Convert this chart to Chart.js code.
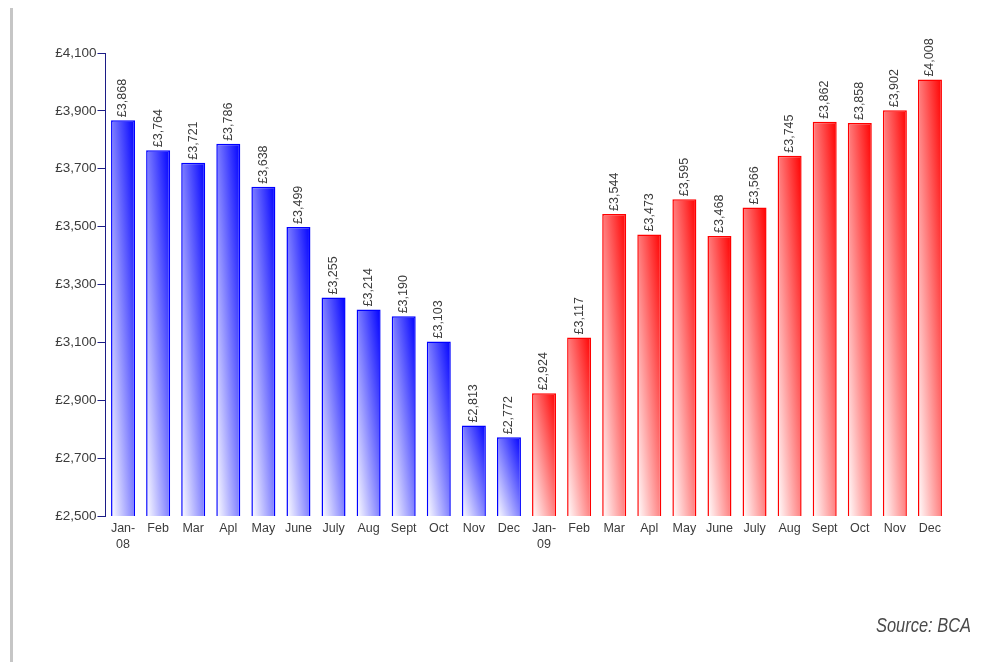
<!DOCTYPE html>
<html>
<head>
<meta charset="utf-8">
<script src="https://cdn.jsdelivr.net/npm/chart.js@4/dist/chart.umd.min.js"></script>
<style>
  html, body { margin: 0; padding: 0; background: #ffffff; }
  #wrap { position: relative; width: 983px; height: 662px; }
</style>
</head>
<body>
<div id="wrap"><canvas id="c" width="983" height="662"></canvas></div>
<script>
// Monthly average used-car price, 2008 and 2009
const monthLabels = [["Jan-", "08"], "Feb", "Mar", "Apl", "May", "June", "July", "Aug", "Sept", "Oct", "Nov", "Dec",
                     ["Jan-", "09"], "Feb", "Mar", "Apl", "May", "June", "July", "Aug", "Sept", "Oct", "Nov", "Dec"];
const prices2008 = [3868, 3764, 3721, 3786, 3638, 3499, 3255, 3214, 3190, 3103, 2813, 2772];
const prices2009 = [2924, 3117, 3544, 3473, 3595, 3468, 3566, 3745, 3862, 3858, 3902, 4008];
const yTicks = [2500, 2700, 2900, 3100, 3300, 3500, 3700, 3900, 4100];
const sourceNote = "Source: BCA";

const allPrices = prices2008.concat(prices2009);
const BAR_PCT = 0.684;
const FONT = '"Liberation Sans", Arial, Helvetica, sans-serif';

function money(v) {
  return "£" + String(v).replace(/\B(?=(\d{3})+(?!\d))/g, ",");
}

function baseColor(i) { return i < prices2008.length ? [0, 0, 255] : [255, 0, 0]; }
function rgb(c) { return 'rgb(' + c.join(',') + ')'; }

// Diagonal fill: white at the bottom-left corner, full colour at the top-right,
// with the colour bands running parallel to the bar's other diagonal.
function barFill(ctx) {
  const chart = ctx.chart;
  const i = ctx.dataIndex || 0;
  const solid = rgb(baseColor(i));
  if (ctx.type !== 'data' || !chart.scales || !chart.scales.x || !chart.scales.y) return solid;
  const xs = chart.scales.x, ys = chart.scales.y;
  const cat = xs.width / monthLabels.length;
  const w = cat * BAR_PCT;
  const cx = xs.getPixelForValue(i);
  const top = ys.getPixelForValue(allPrices[i]);
  const bottom = ys.getPixelForValue(yTicks[0]);
  const h = bottom - top;
  const vals = [w, cx, top, bottom, h];
  if (!vals.every(Number.isFinite) || w <= 0 || h <= 0) return solid;
  const x0 = cx - w / 2, y0 = bottom;
  const k = 2 * w * h / (h * h + w * w);
  const g = chart.ctx.createLinearGradient(x0, y0, x0 + h * k, y0 - w * k);
  g.addColorStop(0, 'rgb(255,255,255)');
  g.addColorStop(1, solid);
  return g;
}

const decorations = {
  id: 'decorations',
  beforeDraw(chart) {
    const c = chart.ctx;
    c.save();
    c.fillStyle = '#ffffff';
    c.fillRect(0, 0, chart.width, chart.height);
    c.fillStyle = '#c6c6c6';
    c.fillRect(10, 8, 3, chart.height - 8);
    c.restore();
  },
  afterDatasetsDraw(chart) {
    const c = chart.ctx;
    const meta = chart.getDatasetMeta(0);
    c.save();
    c.fillStyle = '#3c3c3c';
    c.font = '12.5px ' + FONT;
    c.textAlign = 'left';
    c.textBaseline = 'middle';
    meta.data.forEach((bar, i) => {
      c.save();
      c.translate(bar.x, bar.y - 3);
      c.rotate(-Math.PI / 2);
      c.fillText(money(allPrices[i]), 0, 0);
      c.restore();
    });
    c.fillStyle = '#4a4a4a';
    c.font = 'italic 20px ' + FONT;
    c.textAlign = 'right';
    c.textBaseline = 'alphabetic';
    c.fillText(sourceNote, 971, 632, 95);
    c.restore();
  }
};

const chart = new Chart(document.getElementById('c'), {
  type: 'bar',
  data: {
    labels: monthLabels,
    datasets: [{
      data: allPrices,
      backgroundColor: barFill,
      borderColor: ctx => rgb(baseColor(ctx.dataIndex || 0)),
      borderWidth: 1.5,
      borderSkipped: false,
      barPercentage: BAR_PCT,
      categoryPercentage: 1
    }]
  },
  options: {
    responsive: false,
    animation: false,
    devicePixelRatio: 1,
    layout: { padding: { left: 0, right: 35.5, top: 53, bottom: 0 } },
    plugins: { legend: { display: false }, tooltip: { enabled: false } },
    scales: {
      x: {
        offset: true,
        grid: { display: false, drawTicks: false },
        border: { display: false },
        ticks: {
          color: '#3c3c3c',
          font: { family: FONT, size: 12.5, lineHeight: 1.3 },
          padding: 4,
          maxRotation: 0,
          autoSkip: false
        },
        afterFit(scale) { scale.height = 146; }
      },
      y: {
        min: yTicks[0],
        max: yTicks[yTicks.length - 1],
        afterBuildTicks(scale) { scale.ticks = yTicks.map(v => ({ value: v })); },
        grid: { drawOnChartArea: false, drawTicks: true, tickLength: 8, color: '#1c1c86', lineWidth: 1 },
        border: { display: true, color: '#1c1c86', width: 1 },
        ticks: {
          color: '#3c3c3c',
          font: { family: FONT, size: 13.5 },
          padding: 1,
          callback: v => money(v)
        },
        afterFit(scale) { scale.width = 105.5; }
      }
    }
  },
  plugins: [decorations]
});
// Re-resolve the fills once the scales have their final size.
chart.update('none');
</script>
</body>
</html>
